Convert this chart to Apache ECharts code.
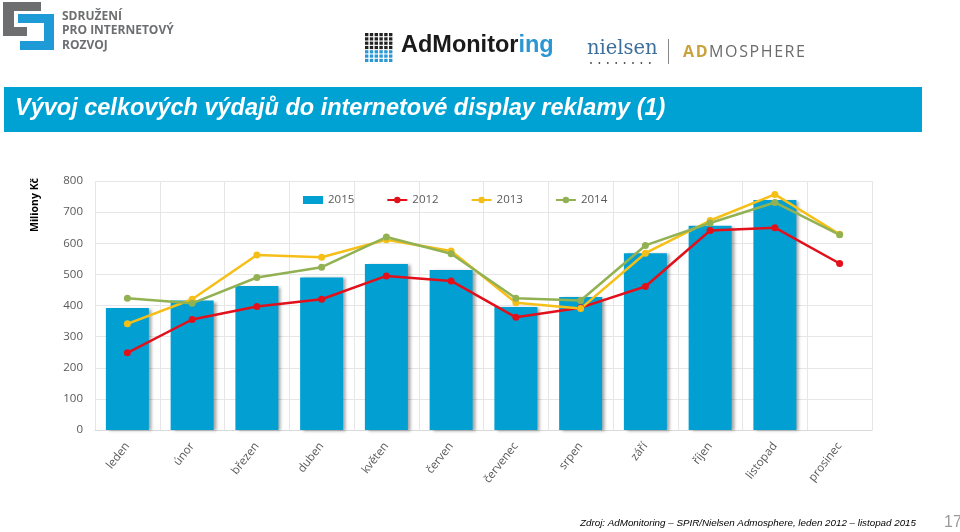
<!DOCTYPE html>
<html>
<head>
<meta charset="utf-8">
<script src="https://cdn.jsdelivr.net/npm/echarts@6/dist/echarts.min.js"></script>
<style>
  html, body { margin: 0; padding: 0; background: #fff; }
  #chart { width: 960px; height: 532px; }
</style>
</head>
<body>
<div id="chart"></div>
<script>
// data (Miliony Kč)
var months = ['leden', 'únor', 'březen', 'duben', 'květen', 'červen', 'červenec', 'srpen', 'září', 'říjen', 'listopad', 'prosinec'];
var y2015 = [392, 416, 463, 490, 533, 514, 395, 427, 568, 656, 739, null];
var y2012 = [248, 355, 397, 420, 495, 479, 362, 393, 461, 641, 650, 535];
var y2013 = [341, 420, 562, 555, 611, 575, 409, 390, 568, 673, 757, 629];
var y2014 = [423, 407, 490, 523, 620, 566, 423, 416, 593, 665, 731, 627];
var yTicks = [0, 100, 200, 300, 400, 500, 600, 700, 800];

var myChart = echarts.init(document.getElementById('chart'));

// kousky loga SPIR
var spirLogo = [
    {type: 'rect', shape: {x: 3, y: 2, width: 38, height: 9}, style: {fill: '#6d6e70'}},
    {type: 'rect', shape: {x: 3, y: 2, width: 11, height: 34}, style: {fill: '#6d6e70'}},
    {type: 'rect', shape: {x: 3, y: 27, width: 24, height: 9}, style: {fill: '#6d6e70'}},
    {type: 'rect', shape: {x: 18, y: 14, width: 36, height: 9}, style: {fill: '#1e9ad6'}},
    {type: 'rect', shape: {x: 44, y: 14, width: 10, height: 36}, style: {fill: '#1e9ad6'}},
    {type: 'rect', shape: {x: 20, y: 41, width: 34, height: 9}, style: {fill: '#1e9ad6'}},
    {type: 'text', left: 62, top: 9, style: {text: 'SDRUŽENÍ\nPRO INTERNETOVÝ\nROZVOJ', fill: '#6d6e70', font: 'bold 12px "Open Sans", sans-serif', lineHeight: 14.5}}
];

// mrizka teckovaneho ctverce AdMonitoring + tecky pod nielsen
var dots = [];
for (var r = 0; r < 7; r++) {
    for (var c = 0; c < 6; c++) {
        dots.push({type: 'rect', shape: {x: 365 + c * 4.8, y: 33 + r * 4.3, width: 3.4, height: 3.2},
            style: {fill: r < 4 ? '#222' : '#2a96d4'}});
    }
}
for (var k = 0; k < 8; k++) {
    dots.push({type: 'circle', shape: {cx: 591 + k * 8.4, cy: 63, r: 0.9}, style: {fill: '#444'}});
}

var option = {
    animation: false,
    textStyle: {fontFamily: '"Open Sans", sans-serif'},
    graphic: spirLogo.concat(dots).concat([
        {type: 'text', left: 401, top: 34, style: {
            text: '{a|AdMonitor}{b|ing}',
            rich: {
                a: {fill: '#1a1a1a', fontWeight: 'bold', fontSize: 23.5, fontFamily: '"Liberation Sans", Arial, sans-serif'},
                b: {fill: '#2a96d4', fontWeight: 'bold', fontSize: 23.5, fontFamily: '"Liberation Sans", Arial, sans-serif'}
            }}},
        {type: 'text', left: 587, top: 39, style: {text: 'nielsen', fill: '#3d6f9c', font: '19.5px "DejaVu Serif", serif'}},
        {type: 'rect', shape: {x: 668, y: 39, width: 1, height: 25}, style: {fill: '#888'}},
        {type: 'text', left: 683, top: 44, style: {
            text: '{a|A\u200aD}{b|\u200aM\u200aO\u200aS\u200aP\u200aH\u200aE\u200aR\u200aE}',
            rich: {
                a: {fill: '#c9a23c', fontWeight: 'bold', fontSize: 16, fontFamily: '"Open Sans", sans-serif'},
                b: {fill: '#6b6b6b', fontSize: 16, fontFamily: '"Open Sans", sans-serif'}
            }}},
        // pruh s nadpisem
        {type: 'rect', shape: {x: 4, y: 87, width: 918, height: 45}, style: {fill: '#00a1d3'}},
        {type: 'text', left: 15, top: 97, style: {
            text: 'Vývoj celkových výdajů do internetové display reklamy (1)',
            fill: '#fff', font: 'italic bold 23.5px "Liberation Sans", Arial, sans-serif',
            shadowColor: 'rgba(0,0,0,0.5)', shadowBlur: 2, shadowOffsetX: 1, shadowOffsetY: 1}},
        {type: 'text', left: 30, top: 178, rotation: Math.PI / 2, style: {text: 'Miliony Kč', fill: '#000', font: 'bold 10.5px "Open Sans", sans-serif'}},
        {type: 'text', left: 580, top: 518, style: {text: 'Zdroj: AdMonitoring – SPIR/Nielsen Admosphere, leden 2012 – listopad 2015', fill: '#000', font: 'italic 9.8px "Liberation Sans", Arial, sans-serif'}},
        {type: 'text', left: 944, top: 515, style: {text: '17', fill: '#9a9a9a', font: '16px "Liberation Sans", Arial, sans-serif'}}
    ]),
    legend: {
        left: 298,
        top: 189,
        itemGap: 32,
        itemWidth: 20,
        itemHeight: 8,
        textStyle: {color: '#595959', fontSize: 11.5},
        data: [
            {name: '2015', icon: 'rect'},
            '2012', '2013', '2014'
        ]
    },
    grid: {left: 95, right: 88, top: 181, bottom: 102},
    xAxis: {
        type: 'category',
        data: months,
        axisLine: {lineStyle: {color: '#d9d9d9'}},
        axisTick: {show: false},
        splitLine: {show: true, lineStyle: {color: '#e6e6e6'}},
        axisLabel: {rotate: 52, color: '#595959', fontSize: 11.5, margin: 14, interval: 0}
    },
    yAxis: {
        type: 'value',
        min: yTicks[0],
        max: yTicks[yTicks.length - 1],
        interval: 100,
        axisLine: {show: false},
        axisTick: {show: false},
        splitLine: {lineStyle: {color: '#e6e6e6'}},
        axisLabel: {color: '#595959', fontSize: 11.5, margin: 12}
    },
    series: [
        {
            name: '2015', type: 'bar', data: y2015, barWidth: 43,
            itemStyle: {color: '#02a0d2', shadowColor: 'rgba(0,0,0,0.35)', shadowBlur: 3, shadowOffsetX: 3, shadowOffsetY: 1}
        },
        {
            name: '2012', type: 'line', data: y2012, symbol: 'circle', symbolSize: 7,
            lineStyle: {width: 2.5, color: '#e2101b'}, itemStyle: {color: '#e2101b'}
        },
        {
            name: '2013', type: 'line', data: y2013, symbol: 'circle', symbolSize: 7,
            lineStyle: {width: 2.5, color: '#f6bf18'}, itemStyle: {color: '#f6bf18'}
        },
        {
            name: '2014', type: 'line', data: y2014, symbol: 'circle', symbolSize: 7,
            lineStyle: {width: 2.5, color: '#92b152'}, itemStyle: {color: '#92b152'}
        }
    ]
};
myChart.setOption(option);
</script>
</body>
</html>
